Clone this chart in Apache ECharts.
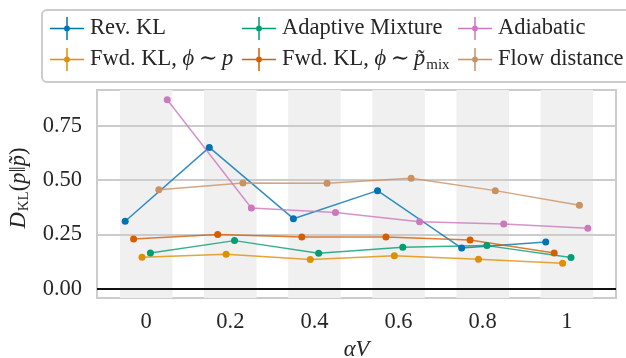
<!DOCTYPE html>
<html>
<head>
<meta charset="utf-8">
<script src="https://cdn.jsdelivr.net/npm/echarts@6/dist/echarts.min.js"></script>
<style>
  html, body { margin: 0; padding: 0; background: #ffffff; }
  #chart { width: 626px; height: 358px; }
</style>
</head>
<body>
<div id="chart"></div>
<script>
// αV values on the x axis
const alphaV = [0, 0.2, 0.4, 0.6, 0.8, 1];
const yTicks = [0, 0.25, 0.5, 0.75];

// KL divergence per method
const revKL           = [0.311, 0.651, 0.323, 0.452, 0.188, 0.216];
const fwdKLp          = [0.146, 0.159, 0.135, 0.152, 0.136, 0.118];
const adaptiveMixture = [0.165, 0.222, 0.164, 0.192, 0.199, 0.144];
const fwdKLmix        = [0.230, 0.250, 0.239, 0.239, 0.225, 0.165];
const adiabatic       = [0.870, 0.372, 0.351, 0.309, 0.299, 0.279];
const flowDistance    = [0.456, 0.487, 0.486, 0.509, 0.452, 0.385];

// horizontal dodge of each method around its αV value
const dodge = {
  'Rev. KL': -0.05,
  'Fwd. KL p': -0.01,
  'Adaptive Mixture': 0.01,
  'Fwd. KL mix': -0.03,
  'Adiabatic': 0.05,
  'Flow distance': 0.03
};

const methods = [
  { key: 'Rev. KL', values: revKL, color: '#0173b2' },
  { key: 'Fwd. KL p', values: fwdKLp, color: '#de8f05' },
  { key: 'Adaptive Mixture', values: adaptiveMixture, color: '#029e73' },
  { key: 'Fwd. KL mix', values: fwdKLmix, color: '#d55e00' },
  { key: 'Adiabatic', values: adiabatic, color: '#cc78bc' },
  { key: 'Flow distance', values: flowDistance, color: '#ca9161' }
];

const legendLabels = {
  'Rev. KL': '{t|Rev. KL}',
  'Fwd. KL p': '{t|Fwd. KL, }{i|ϕ}{t|\u2009∼\u2009}{i|p}',
  'Adaptive Mixture': '{t|Adaptive Mixture}',
  'Fwd. KL mix': '{t|Fwd. KL, }{i|ϕ}{t|\u2009∼\u2009}{i|p̃}{s|mix}',
  'Adiabatic': '{t|Adiabatic}',
  'Flow distance': '{t|Flow distance}'
};

const SERIF = '"Liberation Serif", "DejaVu Serif", serif';
const TEXT = '#262626';
const BAND_HALF = 0.0625;

// error-bar style legend marker: horizontal line, vertical cap line, dot
const crossIcon = 'path://M0,10.75 h34 v1.5 h-34 z M16.25,0 h1.5 v23 h-1.5 z ' +
  'M14.1,11.5 a2.9,2.9 0 1,1 5.8,0 a2.9,2.9 0 1,1 -5.8,0 z';

const richText = {
  t: { fontFamily: SERIF, fontSize: 22.5, color: TEXT, lineHeight: 26 },
  i: { fontFamily: SERIF, fontSize: 22.5, fontStyle: 'italic', color: TEXT, lineHeight: 26 },
  s: { fontFamily: SERIF, fontSize: 15, color: TEXT, lineHeight: 26, verticalAlign: 'bottom', padding: [0, 0, 0, 1] }
};

const series = methods.map(m => ({
  name: m.key,
  type: 'line',
  data: alphaV.map((x, i) => [x + dodge[m.key], m.values[i]]),
  symbol: 'circle',
  symbolSize: 7,
  color: m.color,
  itemStyle: { color: m.color, opacity: 1 },
  lineStyle: { color: m.color, width: 1.5, opacity: 0.8 },
  emphasis: { disabled: true },
  z: 5,
  silent: true
}));

// shaded bands and horizontal reference lines
series.unshift({
  name: 'background',
  type: 'line',
  data: [],
  silent: true,
  z: 1,
  markArea: {
    silent: true,
    itemStyle: { color: '#f0f0f0' },
    data: alphaV.map(x => [{ xAxis: x - BAND_HALF }, { xAxis: x + BAND_HALF }])
  },
  markLine: {
    silent: true,
    symbol: 'none',
    label: { show: false },
    animation: false,
    data: yTicks.map(y => ({
      yAxis: y,
      lineStyle: y === 0
        ? { color: '#111111', width: 1.8, type: 'solid' }
        : { color: '#cccccc', width: 2, type: 'solid' }
    }))
  }
});

function legendColumn(names, left) {
  return {
    data: names.map(n => ({ name: n, icon: crossIcon })),
    orient: 'vertical',
    left: left,
    top: 17,
    padding: 0,
    itemGap: 8,
    itemWidth: 34,
    itemHeight: 23,
    selectedMode: false,
    itemStyle: { borderWidth: 0 },
    textStyle: { rich: richText, padding: [0, 0, 0, 1] },
    formatter: n => legendLabels[n]
  };
}

const option = {
  animation: false,
  backgroundColor: '#ffffff',
  grid: {
    left: 97, right: 10, top: 90, bottom: 60,
    outerBoundsMode: 'none',
    containLabel: false,
    show: true, borderColor: '#cccccc', borderWidth: 2, backgroundColor: 'transparent'
  },
  graphic: [{
    type: 'rect',
    z: -1,
    shape: { x: 42, y: 10, width: 600, height: 72, r: 5 },
    style: { fill: '#ffffff', stroke: '#cccccc', lineWidth: 2 }
  }],
  legend: [
    legendColumn(['Rev. KL', 'Fwd. KL p'], 50),
    legendColumn(['Adaptive Mixture', 'Fwd. KL mix'], 242),
    legendColumn(['Adiabatic', 'Flow distance'], 458)
  ],
  xAxis: {
    type: 'value',
    min: -0.117,
    max: 1.117,
    name: 'αV',
    nameLocation: 'middle',
    nameGap: 38,
    nameTextStyle: { fontFamily: SERIF, fontSize: 22.5, fontStyle: 'italic', color: TEXT },
    axisLine: { show: false },
    axisTick: { show: false },
    splitLine: { show: false },
    axisLabel: {
      customValues: alphaV,
      formatter: v => String(v),
      fontFamily: SERIF, fontSize: 22.5, color: TEXT, margin: 13
    }
  },
  yAxis: {
    type: 'value',
    min: -0.042,
    max: 0.915,
    name: '{i|D}{s|KL}{t|(}{i|p}{t|‖}{i|p̃}{t|)}',
    nameLocation: 'middle',
    nameRotate: 90,
    nameGap: 54,
    nameTextStyle: { rich: richText, padding: [0, 0, 0, 12] },
    axisLine: { show: false },
    axisTick: { show: false },
    splitLine: { show: false },
    axisLabel: {
      customValues: yTicks,
      formatter: v => v.toFixed(2),
      fontFamily: SERIF, fontSize: 22.5, color: TEXT, margin: 15
    }
  },
  series: series
};

const chart = echarts.init(document.getElementById('chart'), null, { renderer: 'canvas' });
chart.setOption(option);
</script>
</body>
</html>
